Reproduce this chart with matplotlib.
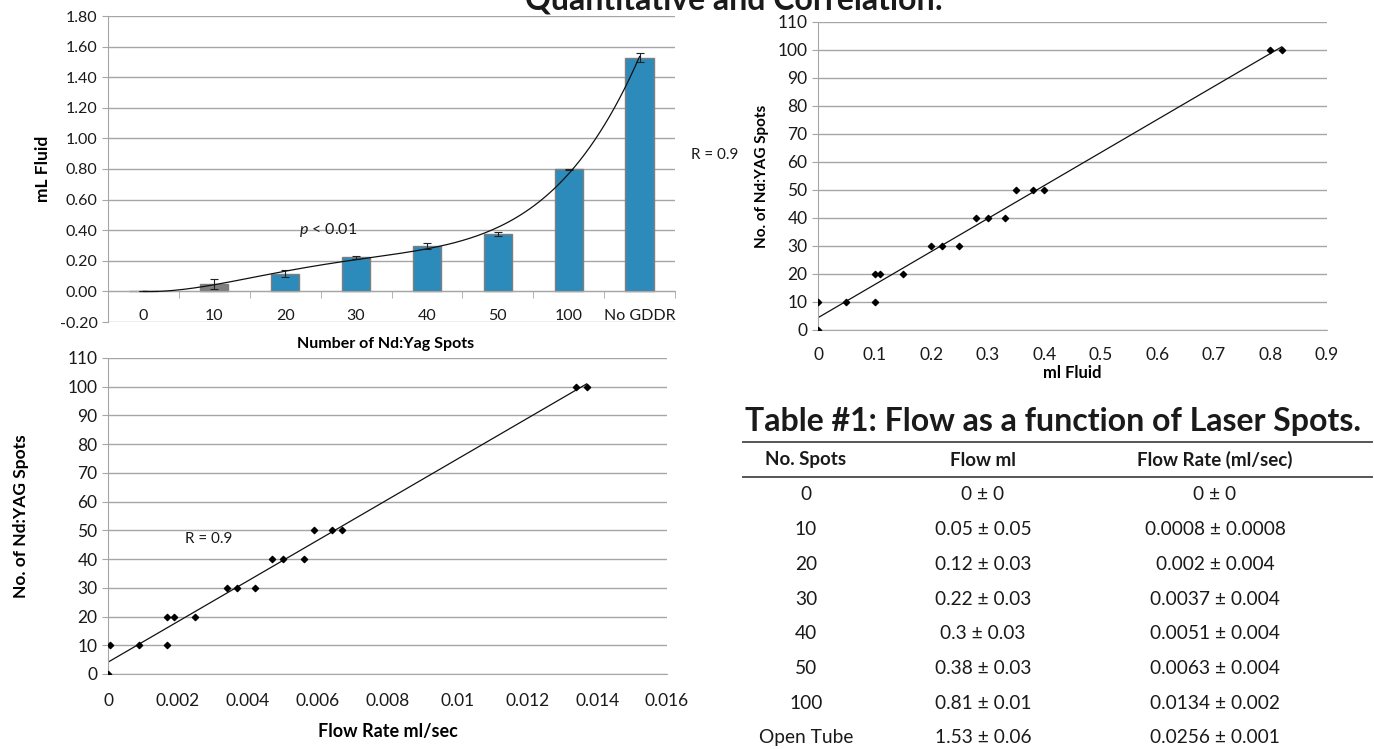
import numpy as np
import matplotlib
matplotlib.use('Agg')
import matplotlib.pyplot as plt

plt.rcParams['font.family'] = ['Lato', 'DejaVu Sans']
plt.rcParams['mathtext.fontset'] = 'custom'
plt.rcParams['mathtext.it'] = 'Lato:italic'
plt.rcParams['mathtext.rm'] = 'Lato'

# bar chart: fluid per number of spots
spot_cats = ['0', '10', '20', '30', '40', '50', '100', 'No GDDR']
fluid_ml = [0.0, 0.048, 0.115, 0.222, 0.298, 0.374, 0.799, 1.528]
fluid_err = [0.0, 0.035, 0.022, 0.012, 0.020, 0.015, 0.003, 0.028]

# scatter: ml fluid vs spots
ml_fluid = [0, 0, 0.05, 0.10, 0.10, 0.11, 0.15, 0.20, 0.22, 0.25,
            0.28, 0.30, 0.33, 0.35, 0.38, 0.40, 0.80, 0.82]
spots_a = [0, 10, 10, 10, 20, 20, 20, 30, 30, 30,
           40, 40, 40, 50, 50, 50, 100, 100]

# scatter: flow rate vs spots
flow_rate = [0, 0.00005, 0.0009, 0.0017, 0.0017, 0.0019, 0.0025, 0.0034, 0.0037, 0.0042,
             0.0047, 0.0050, 0.0056, 0.0059, 0.0064, 0.0067, 0.0134, 0.0137]
spots_b = [0, 10, 10, 10, 20, 20, 20, 30, 30, 30,
           40, 40, 40, 50, 50, 50, 100, 100]

# table
tbl_header = ['No. Spots', 'Flow ml', 'Flow Rate (ml/sec)']
tbl_spots = ['0', '10', '20', '30', '40', '50', '100', 'Open Tube']
tbl_flow = ['0 ± 0', '0.05 ± 0.05', '0.12 ± 0.03', '0.22 ± 0.03', '0.3 ± 0.03',
            '0.38 ± 0.03', '0.81 ± 0.01', '1.53 ± 0.06']
tbl_rate = ['0 ± 0', '0.0008 ± 0.0008', '0.002 ± 0.004', '0.0037 ± 0.004',
            '0.0051 ± 0.004', '0.0063 ± 0.004', '0.0134 ± 0.002', '0.0256 ± 0.001']

W, H = 1374, 749
fig = plt.figure(figsize=(W / 100, H / 100), dpi=100)

def box(x0, x1, ytop, ybot):
    return [x0 / W, 1 - ybot / H, (x1 - x0) / W, (ybot - ytop) / H]

GRID = '#a6a6a6'
TXT = '#1a1a1a'
BLUE = '#2c8bba'

def style(ax):
    for s in ['top', 'right']:
        ax.spines[s].set_visible(False)
    for s in ['left', 'bottom']:
        ax.spines[s].set_color(GRID)
    ax.tick_params(colors=GRID, labelcolor=TXT, length=4)
    ax.yaxis.grid(True, color=GRID, lw=1)
    ax.set_axisbelow(True)

# ---- top left: bars
ax1 = fig.add_axes(box(108, 675, 16, 322))
style(ax1)
x = np.arange(len(spot_cats))
cols = [BLUE] * len(x)
cols[1] = '#808080'
ax1.bar(x, fluid_ml, width=0.4, color=cols, edgecolor='#7f7f7f', lw=1, zorder=2)
ax1.errorbar(x, fluid_ml, yerr=fluid_err, fmt='none', ecolor='#222222',
             elinewidth=0.8, capsize=3, capthick=0.8, zorder=3)
coef = np.polyfit(x, fluid_ml, 4)
xs = np.linspace(0, 7, 200)
ax1.plot(xs, np.polyval(coef, xs), color='#111111', lw=0.9, zorder=4)
ax1.set_xlim(-0.5, 7.5)
ax1.set_ylim(-0.2, 1.8)
ax1.set_yticks(np.arange(-0.2, 1.81, 0.2))
ax1.set_yticklabels(['%.2f' % v for v in np.arange(-0.2, 1.81, 0.2)], fontsize=11.5)
ax1.spines['bottom'].set_position(('data', 0))
ax1.set_xticks(x)
ax1.set_xticklabels(spot_cats, fontsize=11.5)
ax1.set_xticks(np.arange(-0.5, 7.6, 1), minor=True)
ax1.tick_params(axis='x', which='major', length=0, pad=13)
ax1.tick_params(axis='x', which='minor', length=5, color=GRID, direction='out')
ax1.set_ylabel('mL Fluid', fontsize=12.5, fontweight='bold', labelpad=6)
ax1.set_xlabel('Number of Nd:Yag Spots', fontsize=11.5, fontweight='bold')
ax1.xaxis.set_label_coords(0.49, -0.05)
ax1.text(2.2, 0.40, r'$p$ < 0.01', fontsize=11.5, color=TXT, va='center')

fig.text(715 / W, 1 - 155 / H, 'R = 0.9', fontsize=11, color=TXT, ha='center', va='center')

# ---- top right: ml fluid scatter
ax2 = fig.add_axes(box(818, 1327, 22, 330))
style(ax2)
ax2.scatter(ml_fluid, spots_a, marker='D', s=10, color='black', zorder=3)
k, b = np.polyfit(ml_fluid, spots_a, 1)
lx = np.array([0, max(ml_fluid)])
ax2.plot(lx, k * lx + b, color='#111111', lw=0.9)
ax2.set_xlim(0, 0.9)
ax2.set_ylim(0, 110)
ax2.set_yticks(np.arange(0, 111, 10))
ax2.set_xticks(np.arange(0, 0.91, 0.1))
ax2.set_xticklabels(['0'] + ['%.1f' % v for v in np.arange(0.1, 0.91, 0.1)])
ax2.tick_params(labelsize=12.5)
ax2.tick_params(axis='x', length=0, pad=12)
ax2.set_ylabel('No. of Nd:YAG Spots', fontsize=11, fontweight='bold', labelpad=6)
ax2.set_xlabel('ml Fluid', fontsize=12, fontweight='bold', labelpad=2)

# ---- bottom left: flow rate scatter
ax3 = fig.add_axes(box(108, 667, 358, 674))
style(ax3)
ax3.scatter(flow_rate, spots_b, marker='D', s=10, color='black', zorder=3)
k, b = np.polyfit(flow_rate, spots_b, 1)
lx = np.array([0, max(flow_rate)])
ax3.plot(lx, k * lx + b, color='#111111', lw=0.9)
ax3.set_xlim(0, 0.016)
ax3.set_ylim(0, 110)
ax3.set_yticks(np.arange(0, 111, 10))
ax3.set_xticks(np.arange(0, 0.0161, 0.002))
ax3.set_xticklabels(['0', '0.002', '0.004', '0.006', '0.008', '0.01', '0.012', '0.014', '0.016'])
ax3.tick_params(labelsize=12.5)
ax3.tick_params(axis='x', length=0, pad=14)
ax3.set_ylabel('No. of Nd:YAG Spots', fontsize=12.5, fontweight='bold', labelpad=28)
ax3.set_xlabel('Flow Rate ml/sec', fontsize=13, fontweight='bold', labelpad=10)
ax3.text(0.0022, 47, 'R = 0.9', fontsize=11, color=TXT, va='center')

# ---- titles and table
fig.text(734 / W, 1 - 9 / H, 'Quantitative and Correlation:', fontsize=23,
         fontweight='bold', color=TXT, ha='center', va='baseline')
fig.text(745 / W, 1 - 422 / H, 'Table #1: Flow as a function of Laser Spots.',
         fontsize=23, fontweight='bold', color=TXT, ha='left', va='center')
for yy in (442, 477):
    fig.add_artist(plt.Line2D([743 / W, 1372 / W], [1 - yy / H] * 2, color='#555555', lw=1.4))
col_x = [806, 983, 1215]
for cx, h in zip(col_x, tbl_header):
    fig.text(cx / W, 1 - 460 / H, h, fontsize=13.5, fontweight='bold', color=TXT,
             ha='center', va='center')
for i, row in enumerate(zip(tbl_spots, tbl_flow, tbl_rate)):
    yy = 495 + 34.7 * i
    for cx, t in zip(col_x, row):
        fig.text(cx / W, 1 - yy / H, t, fontsize=13.8, color=TXT, ha='center', va='center')

fig.savefig('out.png', dpi=100)
